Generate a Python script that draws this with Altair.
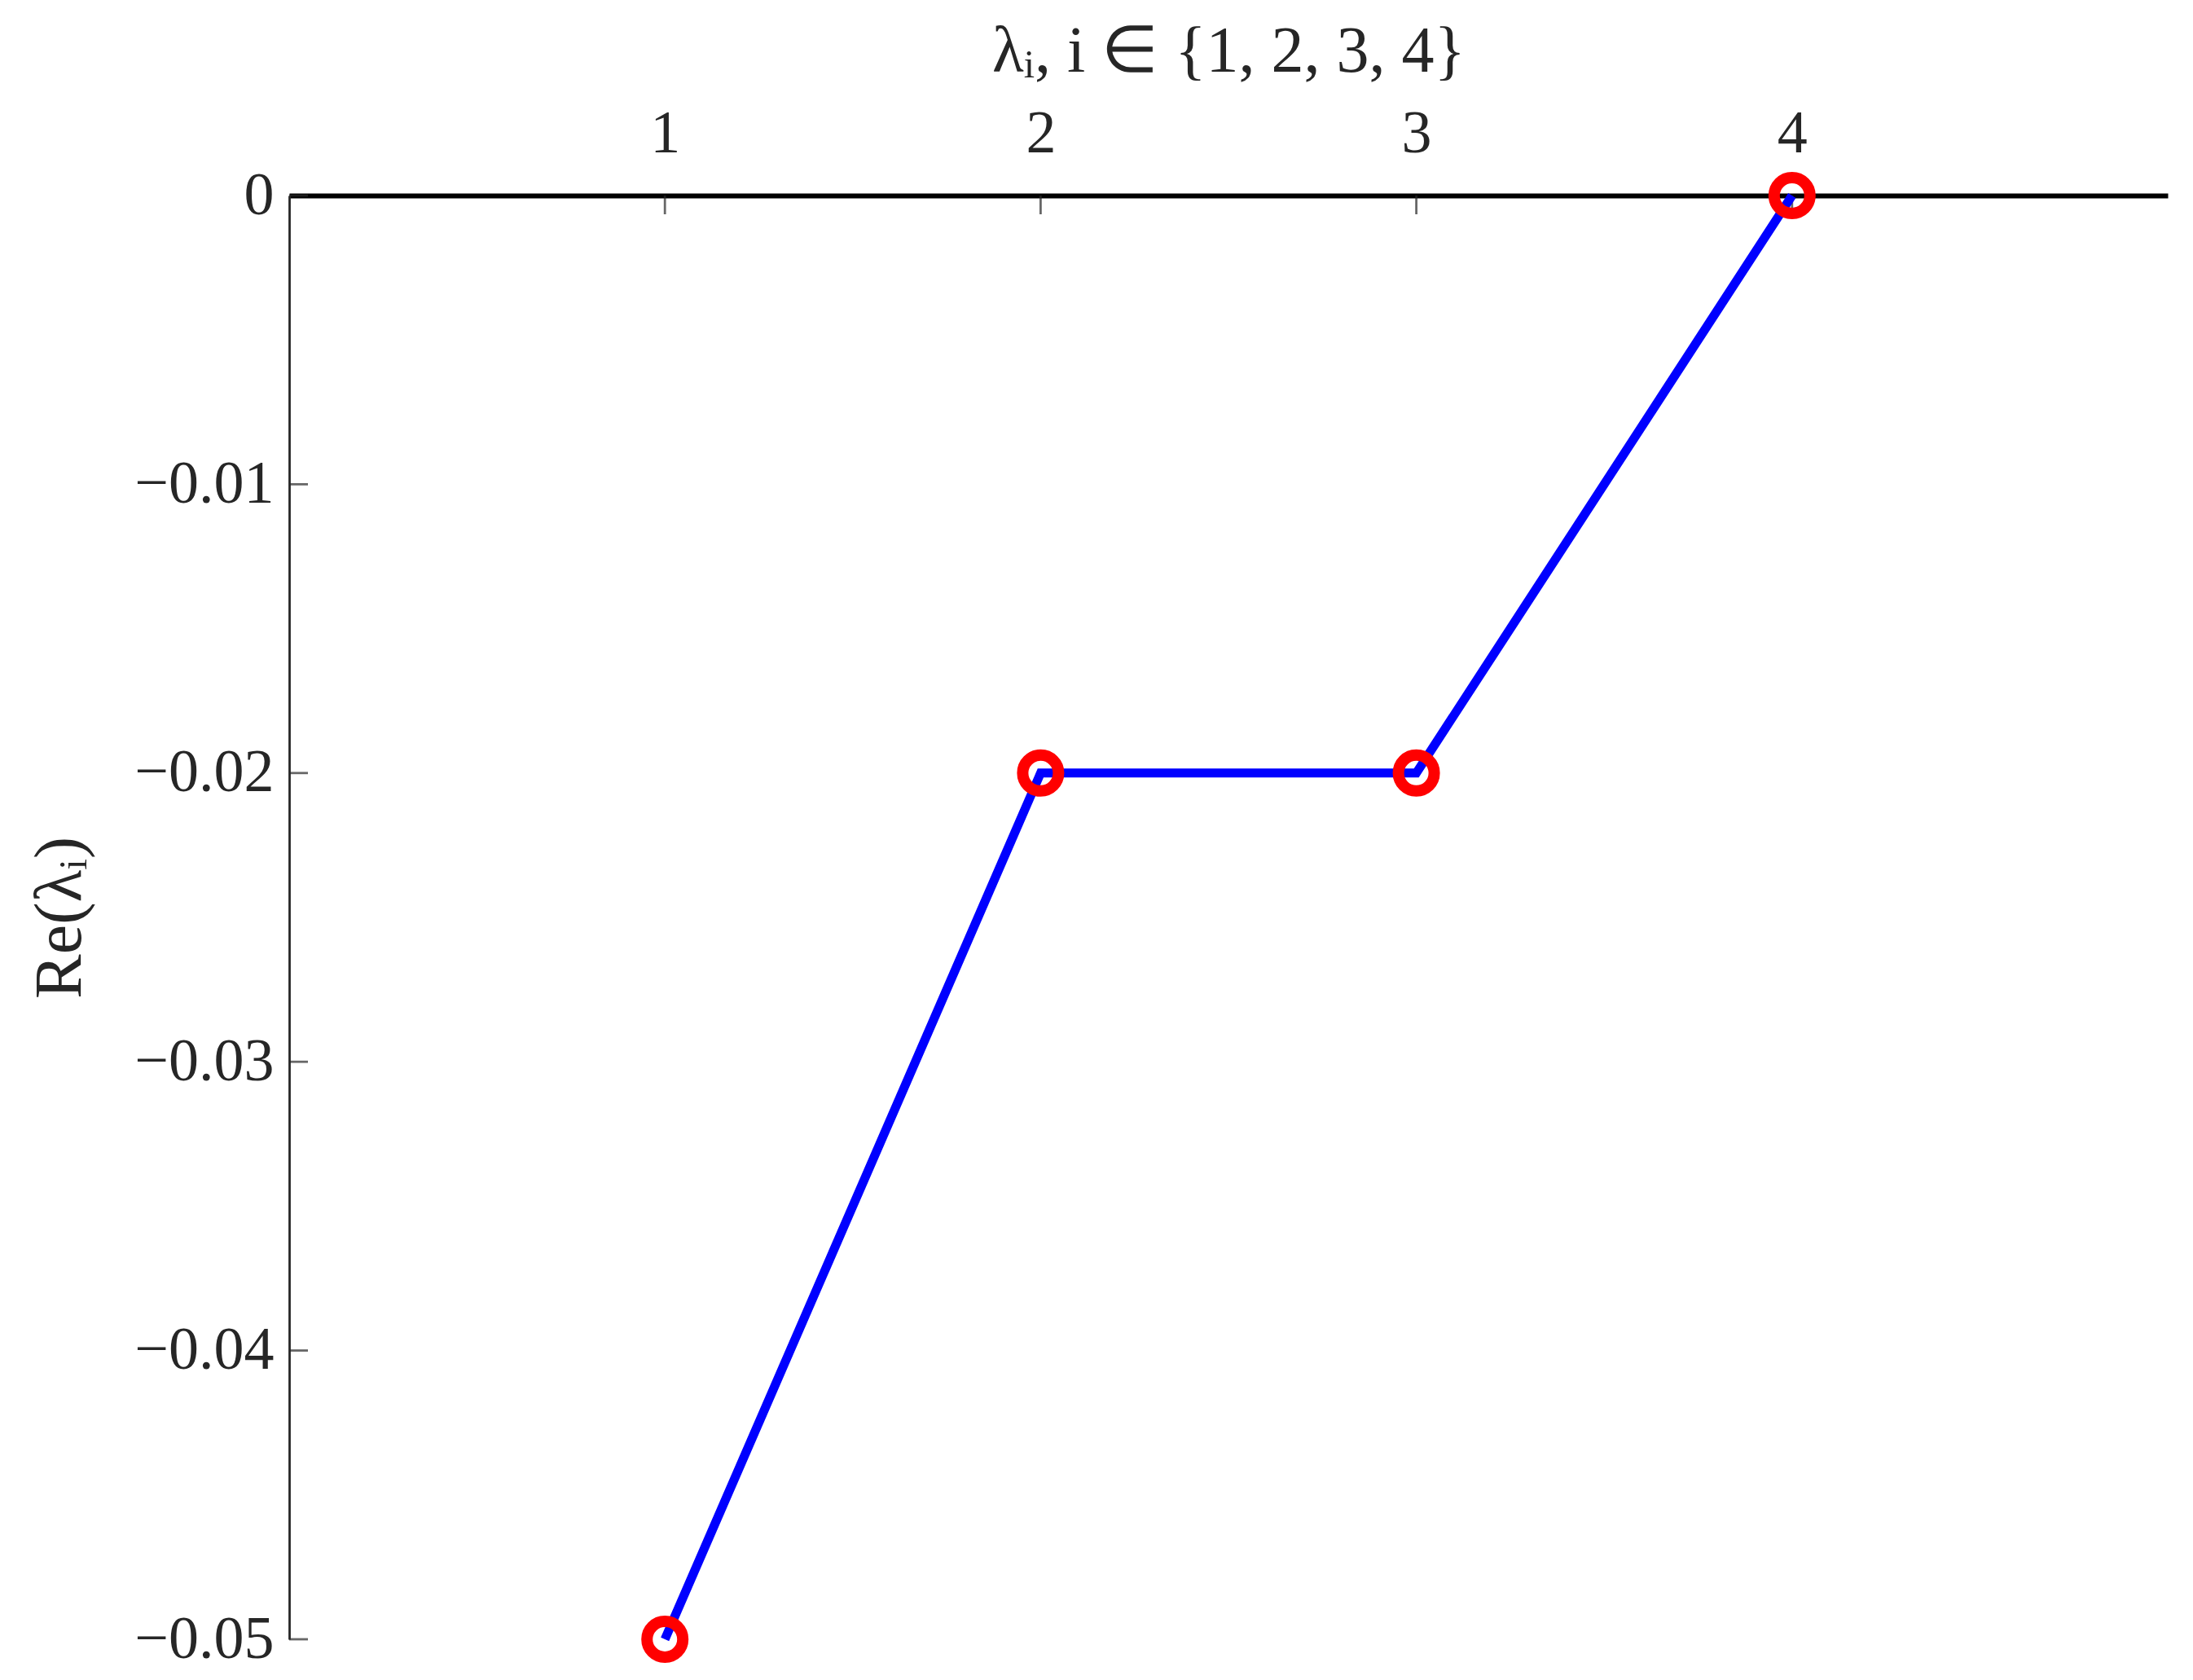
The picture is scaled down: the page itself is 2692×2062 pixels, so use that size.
import altair as alt
import pandas as pd

# data
idx = [1, 2, 3, 4]
re_lambda = [-0.05, -0.02, -0.02, 0.0]
x_ticks = [1, 2, 3, 4]
y_ticks = [-0.05, -0.04, -0.03, -0.02, -0.01, 0.0]

df = pd.DataFrame({"i": idx, "re": re_lambda})
xt = pd.DataFrame({"x": x_ticks, "y": [0.0] * len(x_ticks)})
yt = pd.DataFrame({"x": [0.0] * len(y_ticks), "y": y_ticks})

FONT = "Liberation Serif"
TXT = "#262626"

xscale = alt.Scale(domain=[0, 5], nice=False, zero=False)
yscale = alt.Scale(domain=[-0.05, 0], nice=False, zero=False)

xaxis = alt.Axis(
    orient="top", values=x_ticks, format="d", ticks=False, grid=False,
    domainColor="black", domainWidth=6,
    labelFont=FONT, labelFontSize=74, labelColor=TXT, labelPadding=38,
    title="λᵢ, i ∈ {1, 2, 3, 4}", titleFont=FONT, titleFontSize=80,
    titleFontWeight="normal", titleColor=TXT, titleBaseline="alphabetic",
    titleY=-153,
)
yaxis = alt.Axis(
    orient="left", values=y_ticks, ticks=False, grid=False,
    domainColor=TXT, domainWidth=2.8,
    labelExpr="datum.value == 0 ? '0' : replace(format(datum.value, '.2f'), '-', '−')",
    labelFont=FONT, labelFontSize=74, labelColor=TXT, labelPadding=19,
    title="Re(λᵢ)", titleFont=FONT, titleFontSize=82, titleFontWeight="normal",
    titleColor=TXT, titleAngle=-90, titleBaseline="alphabetic", titleAlign="center",
    titleX=-257, titleY=886,
)

line = alt.Chart(df).mark_line(color="#0000FF", strokeWidth=11).encode(
    x=alt.X("i:Q", scale=xscale, axis=xaxis),
    y=alt.Y("re:Q", scale=yscale, axis=yaxis),
)
pts = alt.Chart(df).mark_point(
    shape="circle", filled=False, color="#FF0000", strokeWidth=14, size=1936, opacity=1
).encode(x=alt.X("i:Q", scale=xscale), y=alt.Y("re:Q", scale=yscale))

xtick = alt.Chart(xt).mark_tick(
    orient="vertical", size=23, thickness=2.8, color=TXT, yOffset=11.5
).encode(x=alt.X("x:Q", scale=xscale), y=alt.Y("y:Q", scale=yscale))
ytick = alt.Chart(yt).mark_tick(
    orient="horizontal", size=23, thickness=2.8, color=TXT, xOffset=11.5
).encode(x=alt.X("x:Q", scale=xscale), y=alt.Y("y:Q", scale=yscale))

chart = alt.layer(xtick, ytick, line, pts).properties(
    width=2306, height=1772,
    autosize=alt.AutoSizeParams(type="none"),
    padding={"left": 347, "top": 232, "right": 20, "bottom": 40},
).configure_view(stroke=None)

chart.save("out.html", embed_options={"renderer": "svg", "actions": False})
